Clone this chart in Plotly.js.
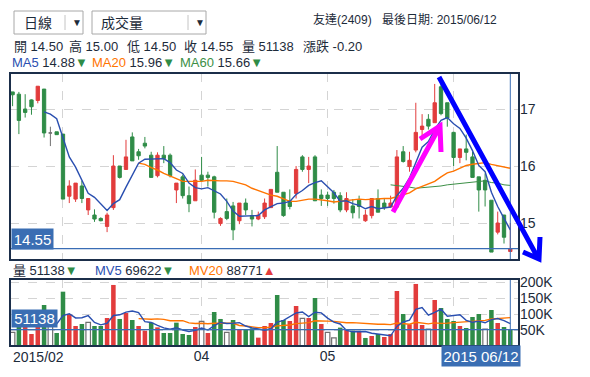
<!DOCTYPE html>
<html><head><meta charset="utf-8">
<script src="https://cdn.plot.ly/plotly-3.0.1.min.js"></script>
<style>html,body{margin:0;padding:0;background:#fff;}#chart{width:590px;height:377px;}</style>
</head><body><div id="chart"></div>
<script>
// ---------- DATA ----------
const dates = [
'2015-02-09','2015-02-10','2015-02-11','2015-02-12','2015-02-13','2015-02-24','2015-02-25','2015-02-26',
'2015-03-02','2015-03-03','2015-03-04','2015-03-05','2015-03-06','2015-03-09','2015-03-10','2015-03-11','2015-03-12','2015-03-13',
'2015-03-16','2015-03-17','2015-03-18','2015-03-19','2015-03-20','2015-03-23','2015-03-24','2015-03-25','2015-03-26','2015-03-27','2015-03-30','2015-03-31',
'2015-04-01','2015-04-02','2015-04-07','2015-04-08','2015-04-09','2015-04-10','2015-04-13','2015-04-14','2015-04-15','2015-04-16',
'2015-04-17','2015-04-20','2015-04-21','2015-04-22','2015-04-23','2015-04-24','2015-04-27','2015-04-28','2015-04-29','2015-04-30',
'2015-05-04','2015-05-05','2015-05-06','2015-05-07','2015-05-08','2015-05-11','2015-05-12','2015-05-13','2015-05-14','2015-05-15',
'2015-05-18','2015-05-19','2015-05-20','2015-05-21','2015-05-22','2015-05-25','2015-05-26','2015-05-27','2015-05-28','2015-05-29',
'2015-06-01','2015-06-02','2015-06-03','2015-06-04','2015-06-05','2015-06-08','2015-06-09','2015-06-10','2015-06-11','2015-06-12'];

const openP = [17.30,17.26,17.00,17.16,17.15,17.35,16.58,16.60,16.56,15.47,15.42,15.65,15.23,15.14,15.08,14.94,15.27,16.00,15.94,16.51,
16.25,16.40,16.19,15.83,16.19,16.19,15.58,15.81,15.48,15.39,15.84,15.84,15.81,14.99,15.20,15.30,15.04,15.35,15.13,15.07,
15.11,15.27,15.89,15.54,15.39,15.52,16.16,15.94,16.16,15.49,15.49,15.54,15.48,15.23,15.30,15.40,15.04,15.13,15.43,15.35,
15.28,15.28,16.25,15.99,16.28,16.64,16.82,16.76,17.39,17.11,16.59,16.15,16.30,16.16,15.81,15.75,15.40,14.84,15.14,14.50];
const highP = [17.30,17.30,17.26,17.17,17.40,17.35,16.69,16.60,16.56,15.75,15.70,15.74,15.43,15.24,15.10,15.18,16.19,16.00,16.46,16.59,
16.30,16.51,16.25,16.24,16.35,16.22,15.70,15.85,15.64,15.94,16.16,15.90,15.83,15.10,15.43,15.37,15.35,15.43,15.23,15.20,
15.43,15.59,16.35,15.54,15.59,16.00,16.19,16.16,16.19,15.59,15.55,15.58,15.54,15.54,15.42,15.48,15.23,15.43,15.59,15.42,
15.48,16.28,16.35,16.25,17.11,16.91,16.91,17.44,17.55,17.11,16.60,16.30,16.55,16.25,15.81,15.87,15.40,15.20,15.14,15.00];
const lowP = [17.05,16.56,16.85,16.90,17.10,16.50,16.35,16.55,15.42,15.35,15.37,15.35,15.14,15.02,15.03,14.84,15.23,15.78,15.94,16.09,
16.11,16.31,15.80,15.80,16.05,15.80,15.35,15.43,15.19,15.39,15.72,15.64,15.08,14.95,15.05,14.70,14.98,15.14,14.94,15.05,
15.07,15.27,15.54,15.11,15.24,15.43,15.90,15.70,15.39,15.30,15.30,15.34,15.19,15.19,15.08,15.08,15.02,15.08,15.19,15.23,
15.28,15.28,16.06,15.90,16.24,16.51,16.64,16.76,16.89,16.69,16.00,16.05,16.10,15.80,15.20,15.29,14.49,14.80,14.64,14.50];
const closeP = [17.25,16.80,16.94,17.04,17.40,16.58,16.58,16.55,15.42,15.65,15.70,15.43,15.43,15.07,15.04,15.14,16.00,15.80,16.16,16.09,
16.18,16.35,15.80,16.19,16.13,15.83,15.70,15.48,15.34,15.75,15.75,15.80,15.19,15.08,15.08,14.88,15.35,15.23,15.07,15.14,
15.35,15.59,15.54,15.13,15.29,15.94,15.94,16.00,15.39,15.43,15.43,15.43,15.23,15.43,15.18,15.29,15.14,15.43,15.19,15.27,
15.35,16.16,16.08,16.10,16.59,16.70,16.70,17.11,16.92,16.84,16.15,16.30,16.24,15.80,15.58,15.58,14.49,15.00,14.75,14.55];
const closeBeforeFirst = 17.25;

const ma5 = [null,null,null,null,null,16.95,16.91,16.83,16.51,16.16,15.98,15.75,15.52,15.45,15.33,15.22,15.34,15.41,15.63,15.84,
16.05,16.12,16.12,16.12,16.13,16.06,15.93,15.87,15.70,15.62,15.60,15.62,15.56,15.51,15.38,15.21,15.12,15.12,15.12,15.13,
15.23,15.28,15.34,15.35,15.38,15.50,15.57,15.66,15.71,15.74,15.64,15.53,15.38,15.39,15.34,15.31,15.25,15.29,15.25,15.26,
15.28,15.48,15.61,15.79,16.06,16.33,16.43,16.64,16.80,16.85,16.74,16.66,16.49,16.27,16.01,15.90,15.54,15.29,15.08,14.88];
const ma20 = [null,null,null,null,null,null,null,null,null,null,null,null,null,null,null,null,null,null,null,null,
16.05,16.03,15.97,15.93,15.87,15.83,15.78,15.73,15.73,15.73,15.73,15.75,15.74,15.74,15.74,15.73,15.70,15.67,15.61,15.57,
15.52,15.49,15.47,15.42,15.38,15.38,15.40,15.42,15.42,15.41,15.39,15.37,15.38,15.39,15.40,15.42,15.41,15.42,15.42,15.43,
15.43,15.46,15.49,15.53,15.60,15.64,15.68,15.73,15.81,15.88,15.91,15.96,16.01,16.03,16.05,16.06,16.03,16.01,15.99,15.96];
const ma60 = [null,null,null,null,null,null,null,null,null,null,null,null,null,null,null,null,null,null,null,null,
null,null,null,null,null,null,null,null,null,null,null,null,null,null,null,null,null,null,null,null,
null,null,null,null,null,null,null,null,null,null,null,null,null,null,null,null,null,null,null,null,
15.67,15.66,15.64,15.63,15.61,15.62,15.62,15.63,15.65,15.67,15.68,15.69,15.71,15.72,15.73,15.74,15.71,15.70,15.67,15.66];

const volume = [42700,81900,76600,37500,71300,128200,66000,40700,169800,99100,62600,68800,74000,62600,62600,87600,190800,84500,103200,81300,
62600,47900,73000,58300,40700,40700,73000,37500,34400,59400,77200,40700,106300,84500,42700,81300,50100,53100,55300,26100,
62600,71900,159400,81300,78200,125100,86500,87600,150100,68800,42700,25100,57400,50100,47900,44800,25100,31300,37500,28200,
37500,172000,100100,67800,193900,65700,53100,143800,118800,84500,78200,62600,56300,90700,100100,53100,112600,71900,59400,51138];
const mv5 = [null,null,null,null,null,79100,75900,68800,95200,100800,87700,88200,94800,73400,66100,71100,95500,97600,105800,109500,
104500,75900,73600,64600,56500,52200,57200,50100,45300,49000,56300,49800,63600,73600,70200,71100,73000,62400,56500,53100,
49400,53800,75000,80200,90700,103200,106100,91700,105500,103600,87100,74800,68800,48800,44600,45100,45100,39800,37300,33400,
31900,61300,75000,81100,114300,119900,96100,104900,115100,93200,95700,97600,80100,74500,77600,72600,82600,85700,79400,69622];
const mv20 = [null,null,null,null,null,null,null,null,null,null,null,null,null,null,null,null,null,null,null,null,
85600,83900,83800,84700,83200,78900,79200,79100,72300,70200,71000,69600,71200,72300,71300,71000,64000,62400,60000,57300,
57300,58400,62800,63900,65800,70000,70700,73200,79000,79400,77700,76900,74500,72800,73000,71200,69900,68900,68000,68100,
66800,71800,68900,68200,74000,71000,69300,72200,70600,71400,73100,75000,74900,76900,79600,80000,84400,86400,87500,88771];

const priceTicks = [15, 16, 17];
const volTicks = [50000, 100000, 150000, 200000];
const volTickText = ['50K', '100K', '150K', '200K'];
const monthTickDates = ['2015-03-02', '2015-04-01', '2015-05-04', '2015-06-01'];
const monthTickText = ['', '04', '05', ''];

// ---------- STYLE ----------
const RED = '#e23c3c', GREEN = '#2f8c47', GRAY = '#707070';
const MA5C = '#2a4fb0', MA20C = '#ff7400', MA60C = '#3c8f46';
const TXT = '#1d2b3a', FRAME = '#1b2e4a', BLUEBOX = '#3a6eb3';
const FONT = 'Liberation Sans, Arial, Noto Sans CJK TC, sans-serif';

// pixel -> paper helpers (plot area x 10..519, y 73..346)
const X = px => (px - 10) / 509;
const Y = py => (346 - py) / 273;

const n = dates.length;
const isDoji = openP.map((o, i) => o === closeP[i]);
const pick = (arr, want) => arr.map((v, i) => (isDoji[i] === want ? v : null));

const traces = [
  {type:'candlestick', x:dates, open:pick(openP,false), high:pick(highP,false), low:pick(lowP,false), close:pick(closeP,false),
   xaxis:'x', yaxis:'y', whiskerwidth:0,
   increasing:{line:{color:RED, width:1}, fillcolor:RED},
   decreasing:{line:{color:GREEN, width:1}, fillcolor:GREEN}, hoverinfo:'skip'},
  {type:'candlestick', x:dates, open:pick(openP,true), high:pick(highP,true), low:pick(lowP,true), close:pick(closeP,true),
   xaxis:'x', yaxis:'y', whiskerwidth:0,
   increasing:{line:{color:GRAY, width:1}, fillcolor:GRAY},
   decreasing:{line:{color:GRAY, width:1}, fillcolor:GRAY}, hoverinfo:'skip'},
  {type:'scatter', mode:'lines', x:dates, y:ma60, xaxis:'x', yaxis:'y', line:{color:MA60C, width:1}, connectgaps:false},
  {type:'scatter', mode:'lines', x:dates, y:ma20, xaxis:'x', yaxis:'y', line:{color:MA20C, width:1.4}},
  {type:'scatter', mode:'lines', x:dates, y:ma5, xaxis:'x', yaxis:'y', line:{color:MA5C, width:1.4}},
];

const volFill = closeP.map((c, i) => {
  const prev = i === 0 ? closeBeforeFirst : closeP[i-1];
  return c > prev ? RED : (c < prev ? GREEN : '#ffffff');
});
const volLine = volFill.map(c => c === '#ffffff' ? GRAY : c);
const volLineW = volFill.map(c => c === '#ffffff' ? 1.2 : 0);
traces.push({type:'bar', x:dates, y:volume, xaxis:'x', yaxis:'y2', width:0.72,
  marker:{color:volFill, line:{color:volLine, width:volLineW}}, hoverinfo:'skip'});
traces.push({type:'scatter', mode:'lines', x:dates, y:mv20, xaxis:'x', yaxis:'y2', line:{color:MA20C, width:1.4}});
traces.push({type:'scatter', mode:'lines', x:dates, y:mv5, xaxis:'x', yaxis:'y2', line:{color:MA5C, width:1.4}});

function txt(text, px, py, size, opts) {
  return Object.assign({xref:'paper', yref:'paper', x:X(px), y:Y(py), text:text, showarrow:false,
    xanchor:'left', yanchor:'middle', font:{family:FONT, size:size, color:TXT}}, opts || {});
}
const col = (c, t) => `<span style="color:${c}">${t}</span>`;
const lastClose = closeP[n-1], lastVol = volume[n-1];

const annotations = [
  txt('日線', 22, 23, 14),
  txt('▼', 70, 23, 10),
  txt('成交量', 99, 23, 14),
  txt('▼', 193, 23, 10),
  txt('友達(2409)', 311, 20, 12),
  txt('最後日期: 2015/06/12', 499, 20, 12, {xanchor:'right'}),
  txt('開 14.50', 12, 47, 13), txt('高 15.00', 67, 47, 13), txt('低 14.50', 125, 47, 13),
  txt('收 14.55', 182, 47, 13), txt('量 51138', 240, 47, 13), txt('漲跌 -0.20', 301, 47, 13),
  txt(col(MA5C,'MA5') + ' 14.88' + col(GREEN,'▼'), 10, 63, 13),
  txt(col(MA20C,'MA20') + ' 15.96' + col(GREEN,'▼'), 90, 63, 13),
  txt(col(MA60C,'MA60') + ' 15.66' + col(GREEN,'▼'), 178, 63, 13),
  txt('量 51138' + col(GREEN,'▼'), 11, 270, 13),
  txt(col(MA5C,'MV5') + ' 69622' + col(GREEN,'▼'), 93, 270, 13),
  txt(col(MA20C,'MV20') + ' 88771' + col(RED,'▲'), 187, 270, 13),
  txt('2015/02', 11, 357, 14),
  txt(lastClose.toFixed(2), 11, 239, 15, {bgcolor:BLUEBOX, width:41, height:20, borderpad:0, align:'center', font:{family:FONT, size:15, color:'#ffffff'}}),
  txt(String(lastVol), 11, 318.5, 15, {bgcolor:BLUEBOX, width:45, height:17, borderpad:0, align:'center', font:{family:FONT, size:15, color:'#ffffff'}}),
  txt('2015 06/12', 441, 356, 15, {bgcolor:BLUEBOX, width:78, height:20, borderpad:0, align:'center', font:{family:FONT, size:15, color:'#ffffff'}}),
];

const P = (px, py) => `${X(px)},${Y(py)}`;
const shapes = [
  {type:'rect', xref:'paper', yref:'paper', x0:X(14), x1:X(83), y0:Y(34), y1:Y(11), line:{color:'#a8a8a8', width:1}, fillcolor:'#ffffff'},
  {type:'line', xref:'paper', yref:'paper', x0:X(65), x1:X(65), y0:Y(15), y1:Y(30), line:{color:'#c4c4c4', width:1}},
  {type:'rect', xref:'paper', yref:'paper', x0:X(92), x1:X(206), y0:Y(34), y1:Y(11), line:{color:'#a8a8a8', width:1}, fillcolor:'#ffffff'},
  {type:'line', xref:'paper', yref:'paper', x0:X(188), x1:X(188), y0:Y(15), y1:Y(30), line:{color:'#c4c4c4', width:1}},
  {type:'line', xref:'paper', yref:'y', x0:0, x1:1, y0:lastClose, y1:lastClose, line:{color:'#3a6db5', width:1.2}},
  {type:'line', xref:'paper', yref:'y2', x0:0, x1:1, y0:lastVol, y1:lastVol, line:{color:'#3a6db5', width:1.2}},
  {type:'line', xref:'x', yref:'paper', x0:dates[n-1], x1:dates[n-1], y0:Y(260), y1:Y(73), line:{color:'#3a6db5', width:1}},
  {type:'line', xref:'x', yref:'paper', x0:dates[n-1], x1:dates[n-1], y0:Y(346), y1:Y(279), line:{color:'#3a6db5', width:1}},
  {type:'rect', xref:'paper', yref:'paper', x0:X(10), x1:X(519), y0:Y(260), y1:Y(73), line:{color:FRAME, width:2}},
  {type:'rect', xref:'paper', yref:'paper', x0:X(10), x1:X(519), y0:Y(346), y1:Y(279), line:{color:FRAME, width:2}},
  {type:'path', xref:'paper', yref:'paper', line:{color:'#ff00ff', width:5},
   path:`M${P(393,212)} L${P(440,126)} M${P(420,139)} L${P(440,126)} L${P(441,152)}`},
  {type:'path', xref:'paper', yref:'paper', line:{color:'#0000ff', width:5},
   path:`M${P(439,77)} L${P(538,258)} M${P(523,252)} L${P(539,259)} L${P(540,237)}`},
];

const axFont = {family:FONT, size:14, color:TXT};
const layout = {
  width:590, height:377, margin:{l:10, r:71, t:73, b:31},
  paper_bgcolor:'#ffffff', plot_bgcolor:'#ffffff', showlegend:false, hovermode:false,
  boxgap:0.25, bargap:0.25,
  font:{family:FONT, color:TXT},
  xaxis:{type:'category', anchor:'y2', range:[-0.41, 80.38], tickvals:monthTickDates, ticktext:monthTickText,
    showgrid:true, gridcolor:'#d4d4d4', griddash:'dash', gridwidth:1, zeroline:false, showline:false, ticks:'',
    tickfont:axFont, rangeslider:{visible:false}, fixedrange:true},
  yaxis:{domain:[0.315, 1], range:[14.351, 17.632], side:'right', anchor:'x', tickvals:priceTicks,
    showgrid:true, gridcolor:'#d4d4d4', griddash:'dash', zeroline:false, ticks:'', tickfont:axFont, fixedrange:true},
  yaxis2:{domain:[0, 0.2454], range:[0, 209400], side:'right', anchor:'x', tickvals:volTicks, ticktext:volTickText,
    showgrid:true, gridcolor:'#d4d4d4', griddash:'dash', zeroline:false, ticks:'', tickfont:axFont, fixedrange:true},
  shapes:shapes, annotations:annotations
};

Plotly.newPlot('chart', traces, layout, {displayModeBar:false, staticPlot:true});
</script>
</body></html>
